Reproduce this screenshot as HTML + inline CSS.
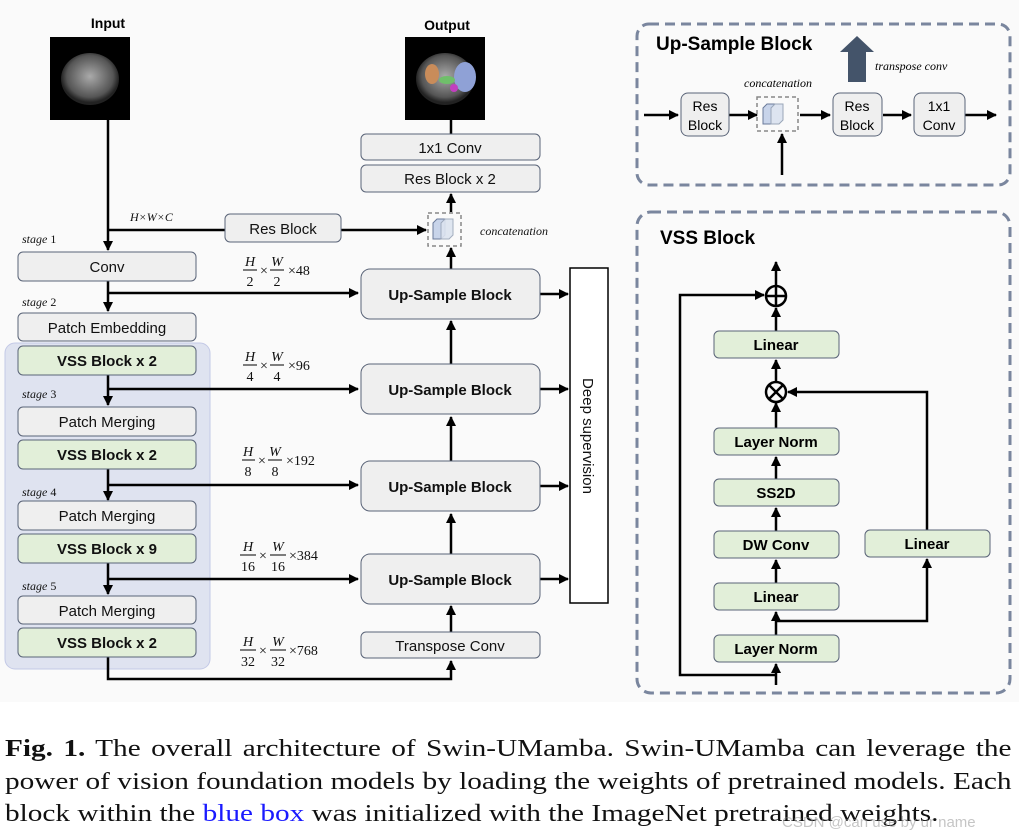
<!DOCTYPE html>
<html><head><meta charset="utf-8"><style>
html,body{margin:0;padding:0;background:#fff;width:1019px;height:838px;overflow:hidden}
svg{position:absolute;left:0;top:0}
.cap{position:absolute;left:5px;top:733px;width:825px;transform:scaleX(1.22);transform-origin:0 0;font-family:"Liberation Serif",serif;font-size:24px;line-height:32.5px;color:#111}
.cap div{white-space:nowrap}
.j{text-align:justify;text-align-last:justify;white-space:normal!important}
</style></head><body>
<svg width="1019" height="838" viewBox="0 0 1019 838" font-family="Liberation Sans, sans-serif">
<defs>
<marker id="a" viewBox="0 0 10 10" refX="9" refY="5" markerWidth="4" markerHeight="4" orient="auto"><path d="M0,0L10,5L0,10z" fill="#000"/></marker>
<radialGradient id="ct" cx="50%" cy="45%" r="50%"><stop offset="0" stop-color="#aaa"/><stop offset="0.8" stop-color="#555"/><stop offset="1" stop-color="#222"/></radialGradient>
</defs>
<rect x="0" y="0" width="1019" height="702" fill="#fafafa"/>
<rect x="5" y="343" width="205" height="326" rx="10" fill="#dfe3f0" stroke="#c3c9e6"/>
<text x="108" y="28" font-size="14" font-weight="bold" text-anchor="middle">Input</text>
<rect x="50" y="37" width="80" height="83" fill="#000"/>
<ellipse cx="90" cy="79" rx="29" ry="26" fill="url(#ct)"/>
<text x="447" y="30" font-size="14" font-weight="bold" text-anchor="middle">Output</text>
<rect x="405" y="37" width="80" height="83" fill="#000"/>
<ellipse cx="445" cy="79" rx="29" ry="26" fill="url(#ct)"/>
<ellipse cx="432" cy="74" rx="7" ry="10" fill="#c98c5a"/>
<ellipse cx="465" cy="77" rx="11" ry="15" fill="#8fa1d6"/>
<ellipse cx="447" cy="80" rx="8" ry="4" fill="#6fbf6a"/>
<circle cx="454" cy="88" r="4" fill="#c23fbf"/>
<g stroke="#000" stroke-width="2.5" fill="none">
<line x1="108" y1="120" x2="108" y2="250" marker-end="url(#a)"/>
<line x1="108" y1="230" x2="225" y2="230"/>
<line x1="341" y1="230" x2="426" y2="230" marker-end="url(#a)"/>
<line x1="108" y1="281" x2="108" y2="311" marker-end="url(#a)"/>
<line x1="108" y1="293" x2="358" y2="293" marker-end="url(#a)"/>
<line x1="108" y1="375" x2="108" y2="405" marker-end="url(#a)"/>
<line x1="108" y1="389" x2="358" y2="389" marker-end="url(#a)"/>
<line x1="108" y1="469" x2="108" y2="500" marker-end="url(#a)"/>
<line x1="108" y1="485" x2="358" y2="485" marker-end="url(#a)"/>
<line x1="108" y1="563" x2="108" y2="594" marker-end="url(#a)"/>
<line x1="108" y1="579" x2="358" y2="579" marker-end="url(#a)"/>
<polyline points="108,657 108,679 451,679 451,661" marker-end="url(#a)"/>
<line x1="451" y1="632" x2="451" y2="606" marker-end="url(#a)"/>
<line x1="451" y1="554" x2="451" y2="514" marker-end="url(#a)"/>
<line x1="451" y1="461" x2="451" y2="417" marker-end="url(#a)"/>
<line x1="451" y1="364" x2="451" y2="321" marker-end="url(#a)"/>
<line x1="451" y1="269" x2="451" y2="248" marker-end="url(#a)"/>
<line x1="451" y1="212" x2="451" y2="194" marker-end="url(#a)"/>
<line x1="451" y1="120" x2="451" y2="134"/>
<line x1="540" y1="294" x2="568" y2="294" marker-end="url(#a)"/>
<line x1="540" y1="389" x2="568" y2="389" marker-end="url(#a)"/>
<line x1="540" y1="486" x2="568" y2="486" marker-end="url(#a)"/>
<line x1="540" y1="579" x2="568" y2="579" marker-end="url(#a)"/>
</g>
<g stroke="#5a6478" stroke-width="1" font-size="15" text-anchor="middle">
<rect x="361" y="134" width="179" height="26" rx="5" fill="#efefef"/>
<rect x="361" y="165" width="179" height="27" rx="5" fill="#efefef"/>
<rect x="225" y="214" width="116" height="28" rx="5" fill="#efefef"/>
<rect x="18" y="252" width="178" height="29" rx="5" fill="#efefef"/>
<rect x="18" y="313" width="178" height="28" rx="5" fill="#efefef"/>
<rect x="18" y="346" width="178" height="29" rx="5" fill="#e2efd9"/>
<rect x="18" y="407" width="178" height="29" rx="5" fill="#efefef"/>
<rect x="18" y="440" width="178" height="29" rx="5" fill="#e2efd9"/>
<rect x="18" y="501" width="178" height="29" rx="5" fill="#efefef"/>
<rect x="18" y="534" width="178" height="29" rx="5" fill="#e2efd9"/>
<rect x="18" y="596" width="178" height="28" rx="5" fill="#efefef"/>
<rect x="18" y="628" width="178" height="29" rx="5" fill="#e2efd9"/>
<rect x="361" y="269" width="179" height="50" rx="9" fill="#efefef"/>
<rect x="361" y="364" width="179" height="50" rx="9" fill="#efefef"/>
<rect x="361" y="461" width="179" height="50" rx="9" fill="#efefef"/>
<rect x="361" y="554" width="179" height="50" rx="9" fill="#efefef"/>
<rect x="361" y="632" width="179" height="26" rx="5" fill="#efefef"/>
<rect x="570" y="268" width="38" height="335" fill="#fff" stroke="#000" stroke-width="1.5"/>
</g>
<g font-size="15" text-anchor="middle" fill="#111">
<text x="450" y="153">1x1 Conv</text>
<text x="450" y="184">Res Block x 2</text>
<text x="283" y="234">Res Block</text>
<text x="107" y="272">Conv</text>
<text x="107" y="333">Patch Embedding</text>
<text x="107" y="427">Patch Merging</text>
<text x="107" y="521">Patch Merging</text>
<text x="107" y="616">Patch Merging</text>
<text x="450" y="651">Transpose Conv</text>
<g font-weight="bold">
<text x="107" y="366">VSS Block x 2</text>
<text x="107" y="460">VSS Block x 2</text>
<text x="107" y="554">VSS Block x 9</text>
<text x="107" y="648">VSS Block x 2</text>
<text x="450" y="300">Up-Sample Block</text>
<text x="450" y="395">Up-Sample Block</text>
<text x="450" y="492">Up-Sample Block</text>
<text x="450" y="585">Up-Sample Block</text>
</g>
<text transform="translate(583,436) rotate(90)" font-size="15">Deep supervision</text>
</g>
<g>
<rect x="428" y="213" width="33" height="33" fill="none" stroke="#888" stroke-width="1.5" stroke-dasharray="4,3"/>
<path d="M433,223 l4,-4 h8 v16 l-4,4 h-8z" fill="#c8d4ea" stroke="#6a7a9a"/>
<path d="M441,223 l4,-4 h8 v16 l-4,4 h-8z" fill="#dde4f0" stroke="#9aa6b8" opacity="0.9"/>
</g>
<g font-family="Liberation Serif, serif" font-style="italic" font-size="12" fill="#111">
<text x="480" y="235">concatenation</text>
<text x="130" y="221">H×W×C</text>
<text x="22" y="243">stage <tspan font-style="normal">1</tspan></text>
<text x="22" y="306">stage <tspan font-style="normal">2</tspan></text>
<text x="22" y="398">stage <tspan font-style="normal">3</tspan></text>
<text x="22" y="496">stage <tspan font-style="normal">4</tspan></text>
<text x="22" y="590">stage <tspan font-style="normal">5</tspan></text>
</g>
<g font-family="Liberation Serif, serif" font-size="14" fill="#111" text-anchor="middle">
<g>
<text x="250" y="266" font-style="italic">H</text><line x1="243" y1="270" x2="257" y2="270" stroke="#000"/><text x="250" y="286">2</text>
<text x="264" y="275">×</text>
<text x="277" y="266" font-style="italic">W</text><line x1="270" y1="270" x2="284" y2="270" stroke="#000"/><text x="277" y="286">2</text>
<text x="288" y="275" text-anchor="start">×48</text>
</g>
<g transform="translate(0,95)">
<text x="250" y="266" font-style="italic">H</text><line x1="243" y1="270" x2="257" y2="270" stroke="#000"/><text x="250" y="286">4</text>
<text x="264" y="275">×</text>
<text x="277" y="266" font-style="italic">W</text><line x1="270" y1="270" x2="284" y2="270" stroke="#000"/><text x="277" y="286">4</text>
<text x="288" y="275" text-anchor="start">×96</text>
</g>
<g transform="translate(0,190)">
<text x="248" y="266" font-style="italic">H</text><line x1="242" y1="270" x2="255" y2="270" stroke="#000"/><text x="248" y="286">8</text>
<text x="262" y="275">×</text>
<text x="275" y="266" font-style="italic">W</text><line x1="268" y1="270" x2="282" y2="270" stroke="#000"/><text x="275" y="286">8</text>
<text x="286" y="275" text-anchor="start">×192</text>
</g>
<g transform="translate(0,285)">
<text x="248" y="266" font-style="italic">H</text><line x1="240" y1="270" x2="256" y2="270" stroke="#000"/><text x="248" y="286">16</text>
<text x="263" y="275">×</text>
<text x="278" y="266" font-style="italic">W</text><line x1="270" y1="270" x2="286" y2="270" stroke="#000"/><text x="278" y="286">16</text>
<text x="289" y="275" text-anchor="start">×384</text>
</g>
<g transform="translate(0,380)">
<text x="248" y="266" font-style="italic">H</text><line x1="240" y1="270" x2="256" y2="270" stroke="#000"/><text x="248" y="286">32</text>
<text x="263" y="275">×</text>
<text x="278" y="266" font-style="italic">W</text><line x1="270" y1="270" x2="286" y2="270" stroke="#000"/><text x="278" y="286">32</text>
<text x="289" y="275" text-anchor="start">×768</text>
</g>
</g>
<rect x="637" y="24" width="373" height="161" rx="12" fill="none" stroke="#7a869e" stroke-width="3" stroke-dasharray="10,6"/>
<text x="656" y="50" font-size="19" font-weight="bold">Up-Sample Block</text>
<path d="M848,82 V52 H840 L857,36 L874,52 H866 V82z" fill="#44546a"/>
<text x="875" y="70" font-family="Liberation Serif, serif" font-style="italic" font-size="12">transpose conv</text>
<text x="744" y="87" font-family="Liberation Serif, serif" font-style="italic" font-size="12">concatenation</text>
<g stroke="#000" stroke-width="2.5" fill="none">
<line x1="644" y1="115" x2="678" y2="115" marker-end="url(#a)"/>
<line x1="729" y1="115" x2="757" y2="115" marker-end="url(#a)"/>
<line x1="800" y1="115" x2="830" y2="115" marker-end="url(#a)"/>
<line x1="883" y1="115" x2="911" y2="115" marker-end="url(#a)"/>
<line x1="965" y1="115" x2="996" y2="115" marker-end="url(#a)"/>
<line x1="782" y1="175" x2="782" y2="134" marker-end="url(#a)"/>
</g>
<g stroke="#5a6478" fill="#efefef">
<rect x="681" y="93" width="48" height="43" rx="7"/>
<rect x="833" y="93" width="49" height="43" rx="7"/>
<rect x="914" y="93" width="51" height="43" rx="7"/>
</g>
<rect x="757" y="97" width="41" height="34" fill="none" stroke="#888" stroke-width="1.5" stroke-dasharray="4,3"/>
<path d="M763,108 l4,-4 h8 v16 l-4,4 h-8z" fill="#c8d4ea" stroke="#6a7a9a"/>
<path d="M771,108 l4,-4 h8 v16 l-4,4 h-8z" fill="#dde4f0" stroke="#9aa6b8"/>
<g font-size="14" text-anchor="middle">
<text x="705" y="111">Res</text><text x="705" y="130">Block</text>
<text x="857" y="111">Res</text><text x="857" y="130">Block</text>
<text x="939" y="111">1x1</text><text x="939" y="130">Conv</text>
</g>
<rect x="637" y="212" width="373" height="481" rx="14" fill="none" stroke="#7a869e" stroke-width="3" stroke-dasharray="10,6"/>
<text x="660" y="244" font-size="19" font-weight="bold">VSS Block</text>
<g stroke="#000" stroke-width="2.5" fill="none">
<line x1="776" y1="685" x2="776" y2="664" marker-end="url(#a)"/>
<polyline points="776,675 680,675 680,295 764,295" marker-end="url(#a)"/>
<line x1="776" y1="635" x2="776" y2="612" marker-end="url(#a)"/>
<polyline points="776,621 927,621 927,559" marker-end="url(#a)"/>
<line x1="776" y1="583" x2="776" y2="560" marker-end="url(#a)"/>
<line x1="776" y1="531" x2="776" y2="508" marker-end="url(#a)"/>
<line x1="776" y1="479" x2="776" y2="457" marker-end="url(#a)"/>
<line x1="776" y1="428" x2="776" y2="403" marker-end="url(#a)"/>
<polyline points="927,530 927,392 788,392" marker-end="url(#a)"/>
<line x1="776" y1="381" x2="776" y2="360" marker-end="url(#a)"/>
<line x1="776" y1="331" x2="776" y2="308" marker-end="url(#a)"/>
<line x1="776" y1="285" x2="776" y2="262" marker-end="url(#a)"/>
<circle cx="776" cy="296" r="10"/>
<line x1="766" y1="296" x2="786" y2="296"/><line x1="776" y1="286" x2="776" y2="306"/>
<circle cx="776" cy="392" r="10" fill="#fafafa"/>
<line x1="769" y1="385" x2="783" y2="399"/><line x1="783" y1="385" x2="769" y2="399"/>
</g>
<g stroke="#5a6478" fill="#e2efd9">
<rect x="714" y="331" width="125" height="27" rx="5"/>
<rect x="714" y="428" width="125" height="27" rx="5"/>
<rect x="714" y="479" width="125" height="27" rx="5"/>
<rect x="714" y="531" width="125" height="27" rx="5"/>
<rect x="714" y="583" width="125" height="27" rx="5"/>
<rect x="714" y="635" width="125" height="27" rx="5"/>
<rect x="865" y="530" width="125" height="27" rx="5"/>
</g>
<g font-size="15" font-weight="bold" text-anchor="middle">
<text x="776" y="350">Linear</text>
<text x="776" y="447">Layer Norm</text>
<text x="776" y="498">SS2D</text>
<text x="776" y="550">DW Conv</text>
<text x="776" y="602">Linear</text>
<text x="776" y="654">Layer Norm</text>
<text x="927" y="549">Linear</text>
</g>
</svg>
<div class="cap">
<div class="j"><b>Fig. 1.</b> The overall architecture of Swin-UMamba. Swin-UMamba can leverage the</div>
<div class="j">power of vision foundation models by loading the weights of pretrained models. Each</div>
<div>block within the <span style="color:#1a1aff">blue box</span> was initialized with the ImageNet pretrained weights.</div>
</div>
<div style="position:absolute;left:782px;top:814px;font:15px 'Liberation Sans',sans-serif;color:rgba(140,140,140,0.5)">CSDN @can use by ur name</div>
</body></html>
